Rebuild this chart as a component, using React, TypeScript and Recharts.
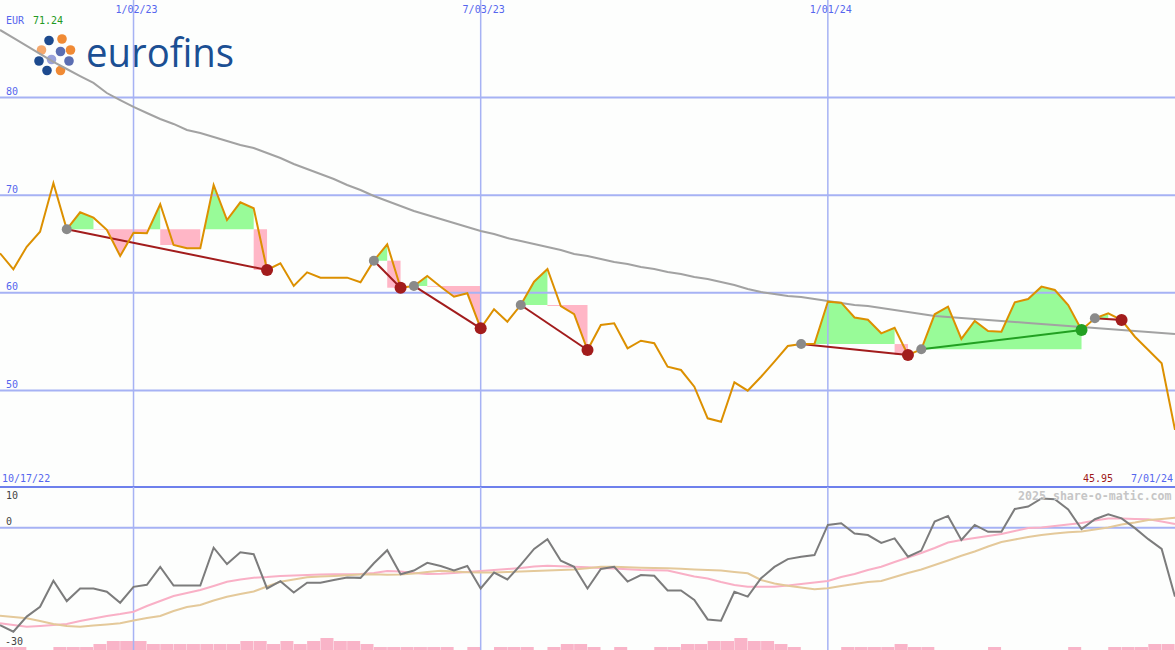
import React from 'react';
import { ComposedChart, BarChart, Bar, Line, Area, XAxis, YAxis, ReferenceLine } from 'recharts';

const W = 1175;

// weekly closes, 10/24/22 .. 7/01/24
const prices = [
  64.05, 62.41, 64.72, 66.26, 71.24, 66.51, 68.25, 67.7, 66.45, 63.77,
  66.16, 66.1, 69.07, 64.9, 64.56, 64.56, 71.05, 67.46, 69.27, 68.66,
  62.34, 63.02, 60.7, 62.1, 61.55, 61.55, 61.55, 61.08, 63.29, 64.97,
  60.52, 60.7, 61.72, 60.62, 59.6, 59.95, 56.36, 58.31, 57.04, 58.75,
  61.14, 62.44, 58.65, 57.8, 54.14, 56.7, 56.87, 54.31, 55.09, 54.83,
  52.43, 52.09, 50.38, 47.14, 46.79, 50.83, 49.97, 51.4, 52.94, 54.55,
  54.75, 54.78, 59.09, 58.99, 57.47, 57.24, 55.85, 56.42, 53.63, 54.21,
  57.8, 58.58, 55.27, 57.11, 56.09, 56.01, 59.03, 59.36, 60.63, 60.29,
  58.75, 56.19, 57.39, 57.9, 57.21, 55.5, 54.14, 52.78, 45.95,
];

const priceMA = [
  86.93, 86.11, 85.29, 84.47, 83.65, 82.93, 82.21, 81.5, 80.47, 79.75,
  79.04, 78.42, 77.81, 77.3, 76.68, 76.37, 75.96, 75.55, 75.14, 74.84,
  74.32, 73.81, 73.2, 72.68, 72.17, 71.66, 71.05, 70.53, 69.92, 69.41,
  68.89, 68.38, 67.97, 67.56, 67.15, 66.74, 66.33, 66.02, 65.61, 65.31,
  65.0, 64.69, 64.39, 63.98, 63.77, 63.46, 63.16, 62.95, 62.64, 62.44,
  62.13, 61.93, 61.62, 61.41, 61.11, 60.8, 60.39, 60.08, 59.88, 59.67,
  59.57, 59.36, 59.16, 58.96, 58.75, 58.65, 58.44, 58.24, 58.03, 57.83,
  57.62, 57.52, 57.42, 57.32, 57.21, 57.11, 57.01, 56.91, 56.8, 56.7,
  56.6, 56.5, 56.39, 56.29, 56.19, 56.09, 55.98, 55.88, 55.78,
];

const osc = [
  -23.9, -25.5, -21.8, -19.4, -13.0, -18.0, -14.9, -14.9, -15.7, -18.4,
  -14.5, -14.0, -9.6, -14.2, -14.2, -14.2, -4.9, -8.9, -6.0, -6.5,
  -14.9, -13.1, -15.9, -13.5, -13.5, -12.8, -12.2, -12.3, -8.7, -5.5,
  -11.4, -10.5, -8.6, -9.4, -10.5, -9.4, -14.9, -11.0, -12.7, -9.1,
  -5.2, -2.8, -8.1, -9.6, -14.9, -10.1, -9.6, -13.2, -11.6, -11.8,
  -15.4, -15.4, -17.7, -22.5, -22.8, -15.7, -16.9, -12.4, -9.6, -7.7,
  -7.1, -6.7, 0.7, 1.1, -1.4, -1.8, -3.7, -2.6, -7.1, -5.6,
  1.5, 2.9, -3.0, 0.7, -1.0, -1.0, 4.6, 5.2, 7.2, 7.0,
  4.5, -0.3, 2.1, 3.3, 2.3, -0.1, -2.8, -5.2, -16.9,
];

const oscFast = [
  -23.45, -23.87, -24.28, -24.11, -23.87, -23.62, -22.88, -22.27, -21.66, -21.17,
  -20.6, -19.2, -17.98, -16.75, -16.01, -15.28, -14.29, -13.24, -12.7, -12.26,
  -12.09, -11.84, -11.72, -11.6, -11.5, -11.42, -11.4, -11.35, -11.1, -10.61,
  -10.74, -11.1, -11.35, -11.3, -11.1, -10.86, -10.61, -10.37, -10.12, -9.88,
  -9.51, -9.31, -9.44, -9.58, -9.68, -9.88, -10.02, -10.2, -10.37, -10.44,
  -10.52, -11.23, -11.96, -12.45, -13.31, -14.05, -14.47, -14.47, -14.47, -14.17,
  -13.8, -13.44, -13.07, -12.09, -11.35, -10.37, -9.56, -8.4, -7.3, -6.2,
  -4.97, -3.62, -3.01, -2.52, -2.02, -1.53, -0.8, -0.06, 0.06, 0.43,
  0.8, 1.17, 1.78, 2.27, 2.27, 2.15, 2.07, 1.53, 0.92,
];

const oscSlow = [
  -21.58, -21.9, -22.22, -22.88, -23.62, -24.11, -24.28, -23.99, -23.74, -23.45,
  -22.76, -22.15, -21.66, -20.43, -19.45, -18.96, -17.85, -16.92, -16.26, -15.64,
  -14.42, -13.24, -12.7, -12.16, -11.99, -11.84, -11.64, -11.5, -11.42, -11.55,
  -11.47, -11.23, -10.86, -10.54, -10.71, -10.91, -11.01, -11.01, -10.86, -10.74,
  -10.61, -10.49, -10.37, -10.27, -9.93, -9.58, -9.58, -9.71, -9.8, -9.9,
  -9.95, -10.07, -10.22, -10.37, -10.49, -10.86, -11.18, -12.82, -13.68, -14.25,
  -14.66, -15.1, -14.86, -14.29, -13.8, -13.31, -13.07, -12.09, -11.1, -10.25,
  -9.14, -8.04, -6.86, -5.83, -4.6, -3.5, -2.88, -2.27, -1.78, -1.41,
  -1.09, -0.92, -0.43, 0.06, 0.8, 1.29, 1.9, 2.15, 2.47,
];

// one bar per week interval
const volume = [
  1, 1, 0, 0, 1, 1, 1, 2, 3, 3, 3, 2, 2, 2, 2, 2, 2, 2, 3, 3,
  2, 3, 2, 3, 4, 3, 3, 2, 1, 1, 1, 1, 1, 1, 0, 1, 0, 1, 1, 1,
  0, 1, 2, 2, 1, 0, 1, 0, 0, 1, 1, 2, 2, 3, 3, 4, 3, 3, 2, 1,
  0, 0, 0, 1, 1, 1, 1, 2, 1, 1, 0, 0, 0, 0, 1, 0, 0, 0, 0, 0,
  1, 0, 0, 1, 1, 1, 2, 2,
];

const tradeStart = [5, 28, 31, 39, 60, 69, 82];
const tradeEnd = [20, 30, 36, 44, 68, 81, 84];

const dateTicks = [10, 36, 62];
const dateLabels = ['1/02/23', '7/03/23', '1/01/24'];
const priceGrid = [80, 70, 60, 50];

const GRID = '#a6b2f4';
const BLUE_TEXT = '#5566ee';
const MONO = '"DejaVu Sans Mono", monospace';

type Pt = { i: number; r: [number, number] | null };

// green where price holds above the entry level, pink where it drops below
function buildFills(s: number, e: number) {
  const L = prices[s];
  const green: Pt[] = [];
  const pink: Pt[] = [];
  let prev = '';
  for (let k = s; k < e; k++) {
    const a = prices[k];
    const b = prices[k + 1];
    if (b >= L) {
      if (prev !== 'g' && green.length) green.push({ i: k, r: null });
      if (a >= L) green.push({ i: k, r: [L, a] });
      else green.push({ i: k + (L - a) / (b - a), r: [L, L] });
      green.push({ i: k + 1, r: [L, b] });
      prev = 'g';
    } else {
      if (a >= L) {
        if (pink.length) pink.push({ i: k, r: null });
        pink.push({ i: k, r: [b, L] });
      } else {
        if (prev !== 'p' && pink.length) pink.push({ i: k, r: null });
        pink.push({ i: k, r: [a, L] });
      }
      pink.push({ i: k + 1, r: [b, L] });
      prev = 'p';
    }
  }
  return { green, pink };
}

const topRows = prices.map((p, i) => ({ i, price: p, ma: priceMA[i] }));
const bottomRows = osc.map((v, i) => ({ i, osc: v, fast: oscFast[i], slow: oscSlow[i] }));
const volRows = volume.map((v, k) => ({ k, v }));

function Logo() {
  const dots: [number, number, string][] = [
    [49, 40.5, '#1d4a8e'], [62, 39, '#f08a34'], [41.5, 50, '#f5a86c'], [60.5, 51.5, '#5b6eb2'],
    [70.5, 50, '#f08a34'], [39, 61, '#1d4a8e'], [51.5, 59.5, '#9aa2da'], [69, 61, '#5b6eb2'],
    [47, 70.5, '#1d4a8e'], [60.5, 70.5, '#f08a34'],
  ];
  return (
    <svg width={240} height={90} style={{ position: 'absolute', left: 0, top: 0 }}>
      {dots.map(([x, y, c], n) => <circle key={n} cx={x} cy={y} r={4.8} fill={c} />)}
      <text x={86} y={67} fontFamily="Open Sans" fontSize={40} fill="#1b4f93" textLength={148} lengthAdjust="spacingAndGlyphs">eurofins</text>
    </svg>
  );
}

const txt = (left: number, top: number, color: string, s: string, extra: React.CSSProperties = {}) => (
  <div style={{ position: 'absolute', left, top, color, fontFamily: MONO, fontSize: 10, lineHeight: '10px', whiteSpace: 'pre', ...extra }}>{s}</div>
);

export default function App() {
  return (
    <div style={{ position: 'absolute', left: 0, top: 0, width: W, height: 650, background: '#fdfefd', overflow: 'hidden' }}>
      <Logo />
      <div style={{ position: 'absolute', left: 0, top: 0 }}>
        <ComposedChart width={W} height={488} data={topRows} margin={{ top: 0, right: 0, bottom: 0, left: 0 }}>
          <XAxis type="number" dataKey="i" domain={[0, 88]} hide />
          <YAxis type="number" domain={[40, 90]} allowDataOverflow hide />
          {tradeStart.map((s, n) => {
            const f = buildFills(s, tradeEnd[n]);
            return [
              <Area key={'g' + n} data={f.green} dataKey="r" type="linear" stroke="none" fill="#98fb98" fillOpacity={1}
                dot={false} activeDot={false} isAnimationActive={false} />,
              <Area key={'p' + n} data={f.pink} dataKey="r" type="linear" stroke="none" fill="#ffb6c6" fillOpacity={1}
                dot={false} activeDot={false} isAnimationActive={false} />,
            ];
          })}
          {priceGrid.map((v) => (
            <ReferenceLine key={v} y={v} stroke={GRID} strokeWidth={2}
              label={(p: any) => <text x={p.viewBox.x + 6} y={p.viewBox.y - 2.5} fill={BLUE_TEXT} fontFamily={MONO} fontSize={10}>{v}</text>} />
          ))}
          {dateTicks.map((d, n) => (
            <ReferenceLine key={d} x={d} stroke={GRID} strokeWidth={1.5}
              label={(p: any) => <text x={p.viewBox.x + 3} y={p.viewBox.y + 12.5} textAnchor="middle" fill={BLUE_TEXT} fontFamily={MONO} fontSize={10}>{dateLabels[n]}</text>} />
          ))}
          <Line dataKey="ma" type="linear" stroke="#a2a2a2" strokeWidth={2} dot={false} activeDot={false} isAnimationActive={false} />
          {tradeStart.map((s, n) => {
            const e = tradeEnd[n];
            const win = prices[e] > prices[s];
            const col = win ? '#22a022' : '#a21c1c';
            return (
              <Line key={'t' + n} data={[{ i: s, v: prices[s] }, { i: e, v: prices[e] }]} dataKey="v" type="linear"
                stroke={col} strokeWidth={2} activeDot={false} isAnimationActive={false}
                dot={(p: any) => {
                  const first = p.payload && p.payload.i === s;
                  return <circle key={'d' + n + (first ? 'a' : 'b')} cx={p.cx} cy={p.cy} r={first ? 5 : 6} fill={first ? '#8a8a8a' : col} stroke="none" />;
                }} />
            );
          })}
          <Line dataKey="price" type="linear" stroke="#dc9000" strokeWidth={2} dot={false} activeDot={false} isAnimationActive={false} />
        </ComposedChart>
      </div>

      <div style={{ position: 'absolute', left: 0, top: 620 }}>
        <BarChart width={W} height={30} data={volRows} margin={{ top: 0, right: 0, bottom: 0, left: 0 }} barCategoryGap={0}>
          <XAxis dataKey="k" hide />
          <YAxis domain={[0, 10]} allowDataOverflow hide />
          <Bar dataKey="v" fill="#f9b4c8" isAnimationActive={false} />
        </BarChart>
      </div>

      <div style={{ position: 'absolute', left: 0, top: 486 }}>
        <ComposedChart width={W} height={164} data={bottomRows} margin={{ top: 1, right: 0, bottom: 0, left: 0 }}>
          <XAxis type="number" dataKey="i" domain={[0, 88]} hide />
          <YAxis type="number" domain={[-30, 10]} allowDataOverflow hide />
          <ReferenceLine y={10} stroke="#6e80ec" strokeWidth={2} />
          <ReferenceLine y={0} stroke={GRID} strokeWidth={2} />
          {dateTicks.map((d) => <ReferenceLine key={d} x={d} stroke={GRID} strokeWidth={1.5} />)}
          <Line dataKey="fast" type="linear" stroke="#f9b0c6" strokeWidth={2} dot={false} activeDot={false} isAnimationActive={false} />
          <Line dataKey="slow" type="linear" stroke="#e4c99a" strokeWidth={2} dot={false} activeDot={false} isAnimationActive={false} />
          <Line dataKey="osc" type="linear" stroke="#7c7c7c" strokeWidth={2} dot={false} activeDot={false} isAnimationActive={false} />
        </ComposedChart>
      </div>

      {txt(6, 16, BLUE_TEXT, 'EUR')}
      {txt(33, 16, '#229922', '71.24')}
      {txt(2, 474, BLUE_TEXT, '10/17/22')}
      {txt(1083, 474, '#a01818', '45.95')}
      {txt(1131, 474, BLUE_TEXT, '7/01/24')}
      {txt(1018, 490, '#c6c6c6', '2025 share-o-matic.com', { fontSize: 11.6, fontWeight: 'bold', lineHeight: '12px' })}
      {txt(6, 491, '#444444', '10')}
      {txt(6, 517, '#444444', '0')}
      {txt(5, 637, '#444444', '-30')}
    </div>
  );
}
